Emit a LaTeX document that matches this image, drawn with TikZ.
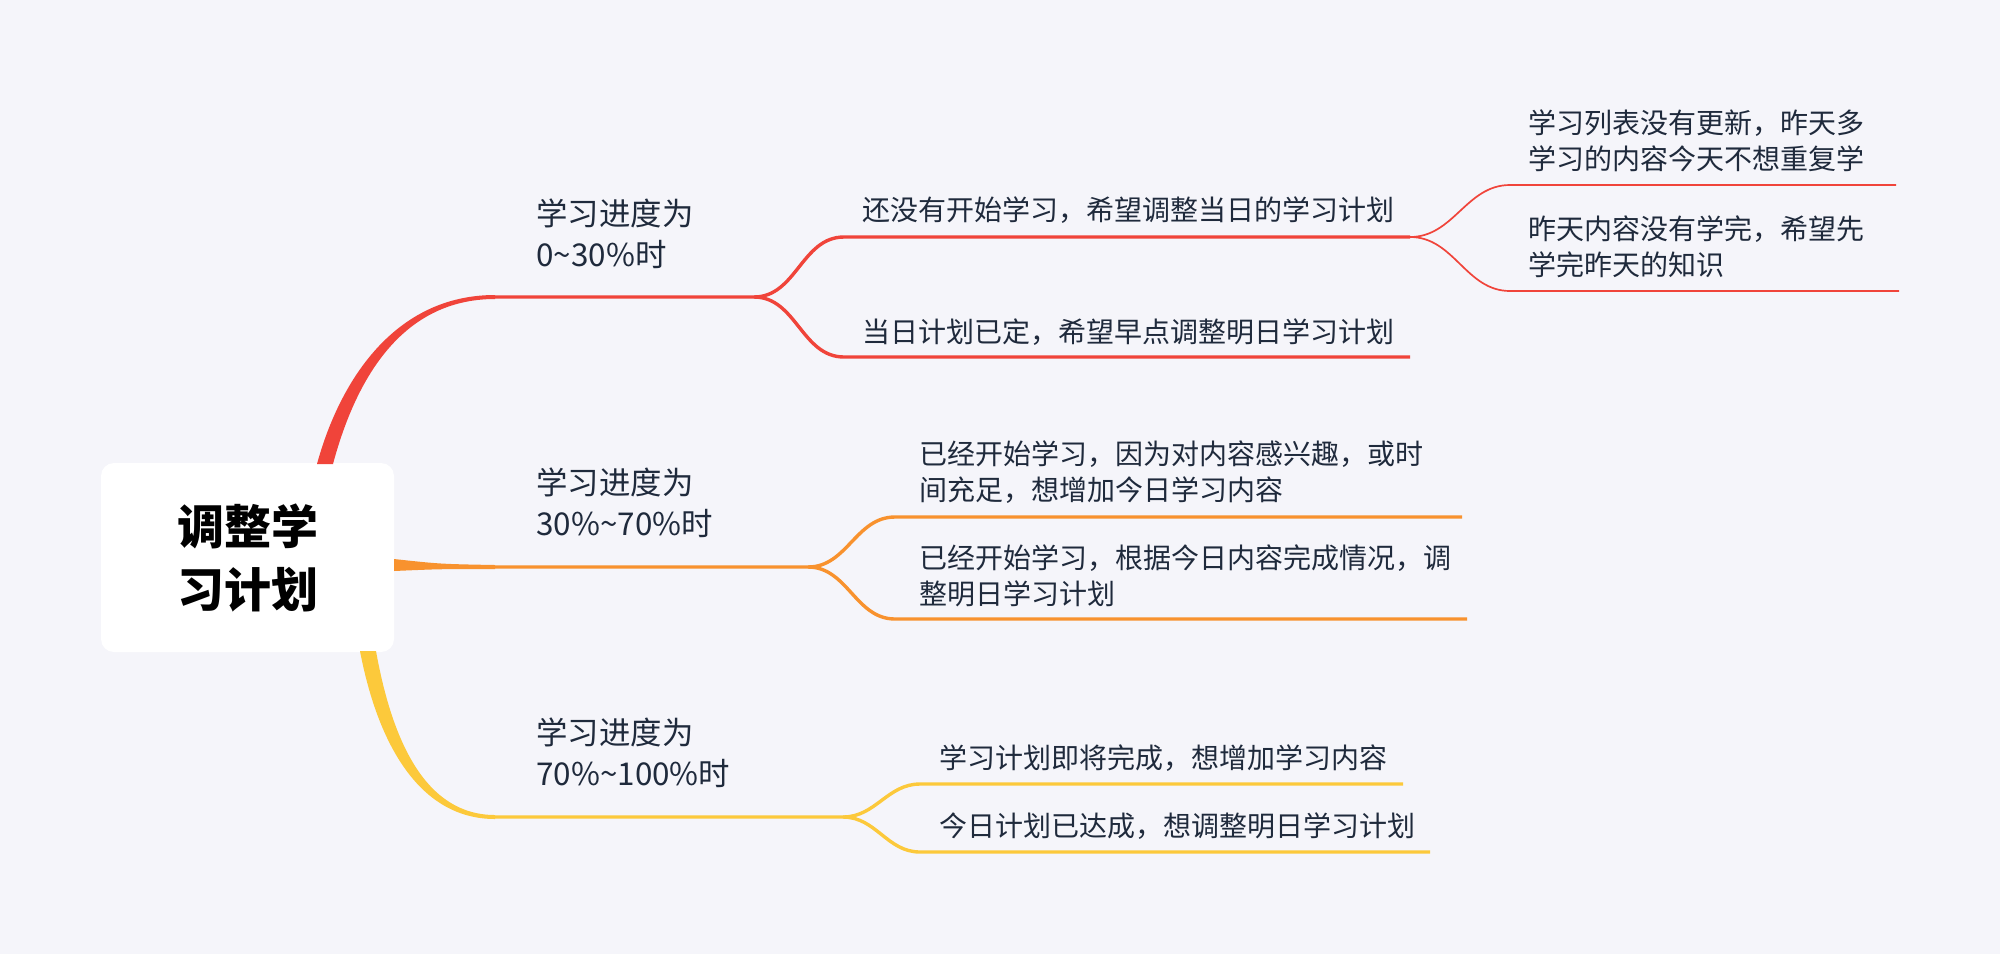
\documentclass[tikz,border=0pt]{standalone}
\usepackage{fontspec}
\newfontfamily\cjk{Noto Sans CJK SC}
\usetikzlibrary{positioning}
\definecolor{bg}{HTML}{F5F5FA}
\definecolor{ink}{HTML}{1F2A3C}
\definecolor{redb}{HTML}{F0443A}
\definecolor{orangeb}{HTML}{F8922E}
\definecolor{yellowb}{HTML}{FCC93B}
\tikzset{
  topic/.style={font=\cjk\fontsize{15.7}{20.5}\selectfont, text=ink, anchor=west, align=left, inner sep=0pt},
  subtopic/.style={font=\cjk\fontsize{14}{18}\selectfont, text=ink, anchor=west, align=left, inner sep=0pt},
  branch/.style={line width=1.7pt},
  twig/.style={line width=0.85pt},
}

\begin{document}
\begin{tikzpicture}[x=0.5pt,y=-0.5pt]
\fill[bg] (0,0) rectangle (2000,954);
\useasboundingbox (0,0) rectangle (2000,954);

\node[fill=white, rounded corners=6.5pt, minimum width=146.5pt, minimum height=94.5pt, inner sep=0pt,
  font=\cjk\bfseries\fontsize{23.5}{31.5}\selectfont, align=center] (plan) at (247.5,557.5) {调整学\\习计划};

\node[topic] (p1) at (536,234) {学习进度为\\0\textasciitilde30\%时};
\node[topic] (p2) at (536,503) {学习进度为\\30\%\textasciitilde70\%时};
\node[topic] (p3) at (536,753) {学习进度为\\70\%\textasciitilde100\%时};

\node[subtopic] (p1a) at (862,210) {还没有开始学习，希望调整当日的学习计划};
\node[subtopic] (p1b) at (862,332) {当日计划已定，希望早点调整明日学习计划};
\node[subtopic] (p1aa) at (1528,141) {学习列表没有更新，昨天多\\学习的内容今天不想重复学};
\node[subtopic] (p1ab) at (1528,247) {昨天内容没有学完，希望先\\学完昨天的知识};
\node[subtopic] (p2a) at (919,472) {已经开始学习，因为对内容感兴趣，或时\\间充足，想增加今日学习内容};
\node[subtopic] (p2b) at (919,576) {已经开始学习，根据今日内容完成情况，调\\整明日学习计划};
\node[subtopic] (p3a) at (939,758) {学习计划即将完成，想增加学习内容};
\node[subtopic] (p3b) at (939,826) {今日计划已达成，想调整明日学习计划};

\coordinate (r0) at (495,297);
\coordinate (rs) at (754,297);
\coordinate (ra) at (844,237);
\coordinate (ra') at (1410,237);
\coordinate (rb) at (844,357);
\coordinate (rb') at (1410,357);
\coordinate (raa) at (1510,185);
\coordinate (raa') at (1896,185);
\coordinate (rab) at (1510,291);
\coordinate (rab') at (1899,291);
\coordinate (o0) at (495,567);
\coordinate (os) at (808,567);
\coordinate (oa) at (895,517);
\coordinate (oa') at (1462,517);
\coordinate (ob) at (895,619);
\coordinate (ob') at (1467,619);
\coordinate (y0) at (495,817);
\coordinate (ys) at (843,817);
\coordinate (ya) at (920,784);
\coordinate (ya') at (1403,784);
\coordinate (yb) at (920,852);
\coordinate (yb') at (1430,852);

\fill[redb] (317,464) .. controls (340,380) and (395,295) .. (495,295) -- (495,299) .. controls (400,299) and (355,382) .. (333,464) -- cycle;
\fill[orangeb] (394,559) .. controls (440,564) .. (495,565) -- (495,569) .. controls (440,569) .. (394,571) -- cycle;
\fill[yellowb] (360,651) .. controls (378,745) and (420,819) .. (495,819) -- (495,815) .. controls (425,815) and (392,740) .. (376,651) -- cycle;

\draw[branch, redb] (r0) -- (rs) to[out=0,in=180] (ra) -- (ra');
\draw[branch, redb] (rs) to[out=0,in=180] (rb) -- (rb');
\draw[twig, redb] (ra') to[out=0,in=180] (raa) -- (raa');
\draw[twig, redb] (ra') to[out=0,in=180] (rab) -- (rab');
\draw[branch, orangeb] (o0) -- (os) to[out=0,in=180] (oa) -- (oa');
\draw[branch, orangeb] (os) to[out=0,in=180] (ob) -- (ob');
\draw[branch, yellowb] (y0) -- (ys) to[out=0,in=180] (ya) -- (ya');
\draw[branch, yellowb] (ys) to[out=0,in=180] (yb) -- (yb');
\end{tikzpicture}
\end{document}
